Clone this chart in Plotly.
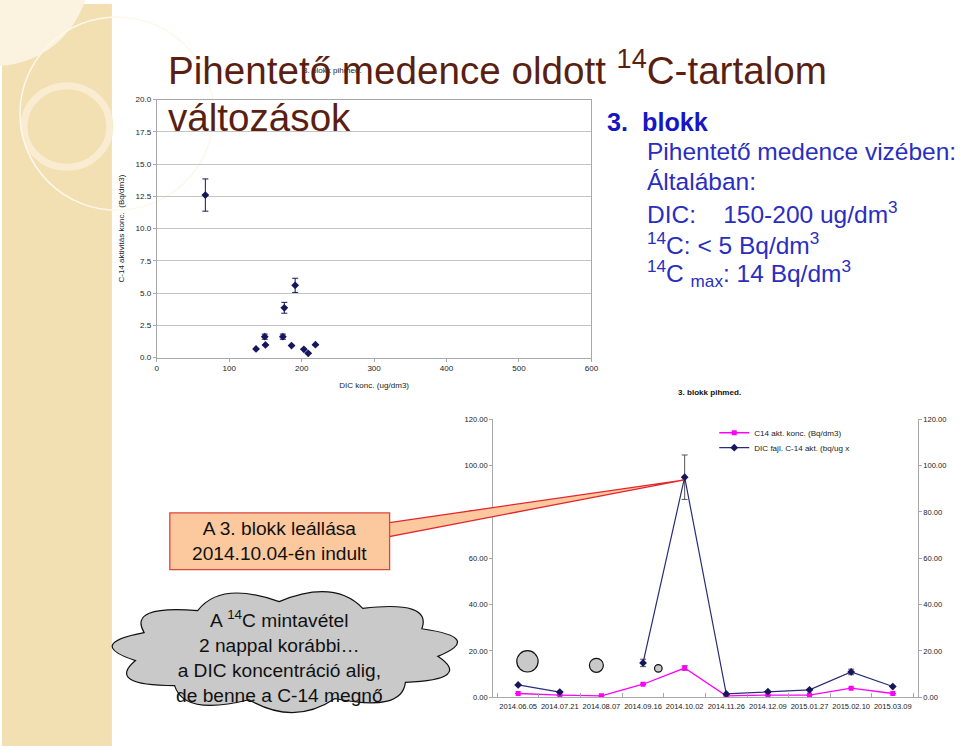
import math
import plotly.graph_objects as go

# reference slide is 960x746; the figure is drawn slightly larger and positions kept as fractions
W, H = 960, 746
FIG_W, FIG_H = 968, 752
K = FIG_W / W


def fx(x):
    return x / W


def fy(y):
    return 1 - y / H


def fs(size):
    return round(size * K, 2)


FONT = "Liberation Sans, Arial, sans-serif"

# --- upper chart: DIC vs C-14 activity
dic_konc = [67, 191, 176, 149, 174, 150, 137, 186, 203, 209, 219]
c14_akt = [12.6, 5.6, 3.86, 1.62, 1.62, 0.98, 0.67, 0.93, 0.64, 0.33, 1.0]
c14_hiba = [1.25, 0.55, 0.42, 0.2, 0.2, 0, 0, 0, 0, 0, 0]

# --- lower chart: time series
datumok = ["2014.06.05", "2014.07.21", "2014.08.07", "2014.09.16", "2014.10.02",
           "2014.11.26", "2014.12.09", "2015.01.27", "2015.02.10", "2015.03.09"]
c14_konc = [1.6, 0.9, 0.6, 5.6, 12.6, 0.6, 0.9, 0.9, 3.9, 1.6]
c14_konc_hiba = [0, 0, 0, 0, 1.0, 0, 0, 0, 0, 0]
dic_fajl = [5.3, 2.2, None, 14.8, 95.0, 1.4, 2.4, 3.2, 10.9, 4.6]
dic_fajl_hiba = [0, 0, 0, 1.6, 9.6, 0, 0, 0, 1.2, 0]

NAVY = "#16165e"
fig = go.Figure()

fig.add_trace(go.Scatter(
    x=dic_konc, y=c14_akt, mode="markers",
    marker=dict(symbol="diamond", size=6, color=NAVY),
    error_y=dict(type="data", array=c14_hiba, color=NAVY, thickness=1, width=3),
    showlegend=False, xaxis="x", yaxis="y"))

fig.add_trace(go.Scatter(
    x=datumok, y=c14_konc, mode="lines+markers", name="C14 akt. konc. (Bq/dm3)",
    line=dict(color="#ff00ff", width=1.3),
    marker=dict(symbol="square", size=5, color="#ff00ff"),
    error_y=dict(type="data", array=c14_konc_hiba, color="#666666", thickness=1, width=3),
    xaxis="x2", yaxis="y2", legend="legend"))

fig.add_trace(go.Scatter(
    x=datumok, y=dic_fajl, mode="lines+markers", name="DIC fajl. C-14 akt. (bq/ug x",
    line=dict(color="#2b2b78", width=1.2),
    marker=dict(symbol="diamond", size=6, color=NAVY),
    error_y=dict(type="data", array=dic_fajl_hiba, color="#555555", thickness=1, width=3),
    connectgaps=False, xaxis="x2", yaxis="y3", legend="legend2"))

tick_font = dict(family=FONT, size=fs(8), color="#222222")
small_font = dict(family=FONT, size=fs(7.5), color="#222222")
grey = "#a8a8a8"

shapes = []
# left decorative strip
shapes.append(dict(type="rect", xref="paper", yref="paper", x0=0, x1=fx(110), y0=0, y1=1,
                   fillcolor="#f2dfb2", line=dict(width=0), layer="below"))
shapes.append(dict(type="circle", xref="paper", yref="paper", x0=fx(-100), x1=fx(88),
                   y0=fy(62), y1=fy(-130), fillcolor="#fbf3e0", line=dict(width=0), layer="below"))
shapes.append(dict(type="circle", xref="paper", yref="paper", x0=fx(22), x1=fx(108),
                   y0=fy(164), y1=fy(82), line=dict(color="#f9ecd0", width=7), layer="below"))
shapes.append(dict(type="circle", xref="paper", yref="paper", x0=fx(18), x1=fx(212),
                   y0=fy(207), y1=fy(13), line=dict(color="#fdf8ec", width=1.5), layer="below"))

# callout box and wedge
shapes.append(dict(type="path", xref="paper", yref="paper",
                   path=f"M {fx(386)} {fy(521)} L {fx(682)} {fy(478)} L {fx(386)} {fy(535)} Z",
                   fillcolor="#fcc99f", line=dict(color="#e4262c", width=1.3), layer="above"))
shapes.append(dict(type="rect", xref="paper", yref="paper", x0=fx(168), x1=fx(388),
                   y0=fy(568), y1=fy(511), fillcolor="#fcc99f",
                   line=dict(color="#e0443c", width=1.3), layer="above"))

# thought cloud
cx, cy, rx, ry, n = 284, 650, 153, 50, 11
ang = [2 * math.pi * i / n + 0.1 for i in range(n + 1)]
p = [(cx + rx * math.cos(a), cy + ry * math.sin(a)) for a in ang]
path = f"M {fx(p[0][0])} {fy(p[0][1])}"
for i in range(n):
    am = (ang[i] + ang[i + 1]) / 2
    ccx, ccy = cx + 1.32 * rx * math.cos(am), cy + 1.5 * ry * math.sin(am)
    path += f" Q {fx(ccx)} {fy(ccy)} {fx(p[i + 1][0])} {fy(p[i + 1][1])}"
path += " Z"
shapes.append(dict(type="path", xref="paper", yref="paper", path=path,
                   fillcolor="#c9c9c9", line=dict(color="#111111", width=1.2), layer="above"))
for bx, by, br in [(526, 660, 10.7), (595, 664, 7), (657, 667, 3.8)]:
    shapes.append(dict(type="circle", xref="paper", yref="paper",
                       x0=fx(bx - br), x1=fx(bx + br), y0=fy(by + br), y1=fy(by - br),
                       fillcolor="#c9c9c9", line=dict(color="#111111", width=1.2), layer="above"))

ann = []
ann.append(dict(x=fx(331), y=fy(67), text="3. blokk pihmed.", font=dict(family=FONT, size=fs(8), color="#222")))
ann.append(dict(x=fx(708), y=fy(390), text="<b>3. blokk pihmed.</b>", font=dict(family=FONT, size=fs(8), color="#111")))

TITLE = "#5b1f12"
ann.append(dict(x=fx(164), y=fy(64), xanchor="left",
                text="Pihentető medence oldott <sup>14</sup>C-tartalom",
                font=dict(family=FONT, size=fs(38.3), color=TITLE)))
ann.append(dict(x=fx(164), y=fy(114), xanchor="left", text="változások",
                font=dict(family=FONT, size=fs(38.3), color=TITLE)))

BLUE = "#2a2ec0"
ann.append(dict(x=fx(604), y=fy(118), xanchor="left", text="<b>3. \u00a0blokk</b>",
                font=dict(family=FONT, size=fs(25), color="#1616c4")))
right_lines = [
    "Pihentető medence vizében:",
    "Általában:",
    "DIC:\u00a0\u00a0\u00a0\u00a0150-200 ug/dm<sup>3</sup>",
    "<sup>14</sup>C: < 5 Bq/dm<sup>3</sup>",
    "<sup>14</sup>C <sub>max</sub>: 14 Bq/dm<sup>3</sup>",
]
for i, t in enumerate(right_lines):
    ann.append(dict(x=fx(644), y=fy(148 + 30.7 * i), xanchor="left", text=t,
                    font=dict(family=FONT, size=fs(24.3), color=BLUE)))

ann.append(dict(x=fx(278), y=fy(539.5), text="A 3. blokk leállása<br>2014.10.04-én indult",
                font=dict(family=FONT, size=fs(19), color="#111")))
ann.append(dict(x=fx(278), y=fy(655),
                text="A <sup>14</sup>C mintavétel<br>2 nappal korábbi…<br>a DIC koncentráció alig,<br>de benne a C-14 megnő",
                font=dict(family=FONT, size=fs(19), color="#111")))
for a in ann:
    a.setdefault("xanchor", "center")
    a.update(xref="paper", yref="paper", showarrow=False, yanchor="middle")

fig.update_layout(
    width=FIG_W, height=FIG_H, autosize=False,
    margin=dict(l=0, r=0, t=0, b=0),
    paper_bgcolor="white", plot_bgcolor="rgba(0,0,0,0)",
    font=dict(family=FONT, size=fs(8), color="#222"),
    xaxis=dict(domain=[fx(155), fx(590)], range=[0, 600], dtick=100, showgrid=False,
               showline=True, linecolor=grey, mirror=True, ticks="outside", ticklen=3,
               tickcolor=grey, tickfont=tick_font, zeroline=False,
               title=dict(text="DIC konc. (ug/dm3)", font=tick_font, standoff=10)),
    yaxis=dict(domain=[fy(355), fy(96)], range=[0, 20], dtick=2.5, tickformat=".1f",
               showgrid=True, gridcolor="#c4c4c4", showline=True, linecolor=grey, mirror=True,
               ticks="outside", ticklen=3, tickcolor=grey, tickfont=tick_font, zeroline=False,
               title=dict(text="C-14 aktivitás konc.  (Bq/dm3)", font=tick_font, standoff=9)),
    xaxis2=dict(domain=[fx(491.7), fx(916.7)], anchor="y2", type="category",
                categoryorder="array", categoryarray=datumok, tickson="boundaries",
                ticks="inside", ticklen=4, tickcolor=grey, showline=True, linecolor=grey,
                showgrid=False, tickangle=0, ticklabelstandoff=2, tickfont=small_font),
    yaxis2=dict(domain=[fy(696), fy(417)], anchor="x2", range=[0, 120], dtick=20,
                tickformat=".2f", showgrid=False, showline=True, linecolor=grey, zeroline=False,
                ticks="outside", ticklen=3, tickcolor=grey, tickfont=small_font),
    yaxis3=dict(overlaying="y2", anchor="x2", side="right", range=[0, 120], dtick=20,
                tickformat=".2f", showgrid=False, showline=True, linecolor=grey, zeroline=False,
                ticks="outside", ticklen=3, tickcolor=grey, tickfont=small_font),
    legend=dict(x=fx(713), y=fy(430.5), xanchor="left", yanchor="middle", bgcolor="rgba(0,0,0,0)",
                font=tick_font, itemwidth=30),
    legend2=dict(x=fx(713), y=fy(445.5), xanchor="left", yanchor="middle", bgcolor="rgba(0,0,0,0)",
                 font=tick_font, itemwidth=30),
    shapes=shapes, annotations=ann,
)

fig.write_html("out.html", config={"displayModeBar": False},
               post_script="document.body.style.margin='0px'; document.body.style.overflow='hidden';")
